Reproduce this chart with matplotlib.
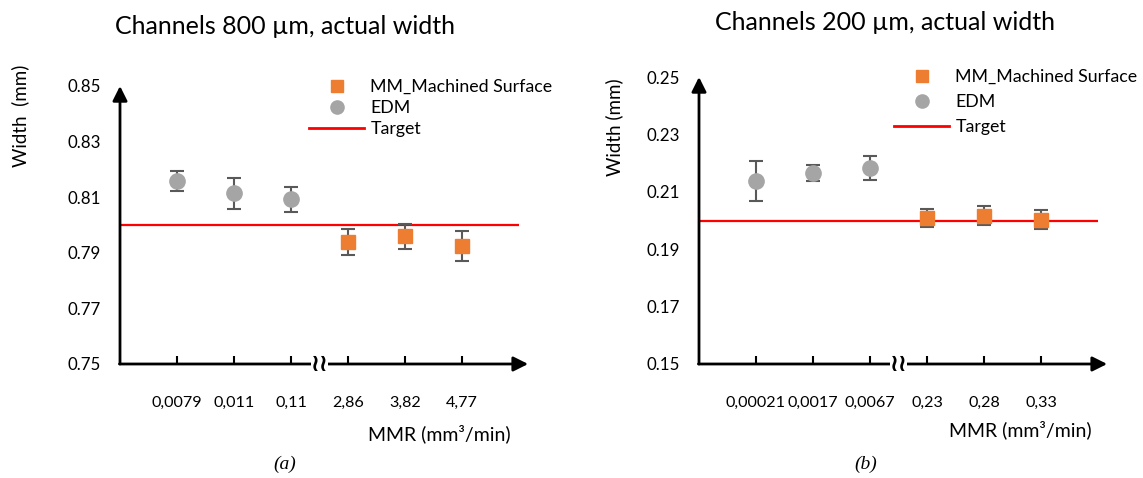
import matplotlib
matplotlib.use('Agg')
import matplotlib.pyplot as plt
import numpy as np
from matplotlib.lines import Line2D

plt.rcParams['font.family'] = ['Lato', 'DejaVu Sans']

# --- data ---
positions = [1, 2, 3, 4, 5, 6]
edm_pos = [1, 2, 3]
mm_pos = [4, 5, 6]

labels_800 = ['0,0079', '0,011', '0,11', '2,86', '3,82', '4,77']
edm_800 = [0.8158, 0.8114, 0.8092]
edm_800_err = [0.0037, 0.0056, 0.0046]
mm_800 = [0.7938, 0.7959, 0.7924]
mm_800_err = [0.0047, 0.0045, 0.0055]
target_800 = 0.80
yticks_800 = [0.75, 0.77, 0.79, 0.81, 0.83, 0.85]

labels_200 = ['0,00021', '0,0017', '0,0067', '0,23', '0,28', '0,33']
edm_200 = [0.2139, 0.2166, 0.2183]
edm_200_err = [0.0070, 0.0029, 0.0041]
mm_200 = [0.2009, 0.2017, 0.2003]
mm_200_err = [0.0030, 0.0033, 0.0033]
target_200 = 0.20
yticks_200 = [0.15, 0.17, 0.19, 0.21, 0.23, 0.25]

orange = '#ED7D31'
grey = '#A5A5A5'
red = '#FF0000'
ebar = '#595959'

W, H = 1143, 478
fig = plt.figure(figsize=(W / 100, H / 100), dpi=100)


def px(x, y):
    # pixel (from top-left) -> figure fraction
    return x / W, 1 - y / H


def draw_panel(ax, labels, edm, edm_err, mm, mm_err, target, yticks, title,
               title_xy, ylabel, ylabel_xy, xlabel_xy, caption, caption_xy,
               leg_xy, legspace):
    ymin, ymax = yticks[0], yticks[-1]
    ax.set_xlim(0, 7.2)
    ax.set_ylim(ymin, ymax)
    for s in ax.spines.values():
        s.set_visible(False)

    ax.hlines(target, 0, 7.0, color=red, lw=1.6, zorder=2)
    ax.errorbar(edm_pos, edm, yerr=edm_err, fmt='o', ms=11, color=grey,
                ecolor=ebar, elinewidth=1.5, capsize=5, capthick=1.5, zorder=3)
    ax.errorbar(mm_pos, mm, yerr=mm_err, fmt='s', ms=10.5, color=orange,
                ecolor=ebar, elinewidth=1.5, capsize=5, capthick=1.5, zorder=3)

    # axes with arrow heads
    arrow = dict(arrowstyle='-|>', lw=2, color='black', mutation_scale=22,
                 shrinkA=0, shrinkB=0)
    ax.annotate('', xy=(0, ymax), xytext=(0, ymin), arrowprops=arrow,
                annotation_clip=False)
    ax.annotate('', xy=(7.16, ymin), xytext=(-0.01, ymin), arrowprops=arrow,
                annotation_clip=False)
    # axis break
    ax.text(3.5, ymin, '\u2240\u2240', ha='center', va='center', fontsize=17,
            family='DejaVu Sans', fontweight='bold',
            bbox=dict(boxstyle='square,pad=0.0', fc='white', ec='none'),
            zorder=5, clip_on=False)

    ax.set_xticks(positions)
    ax.set_xticklabels(labels, fontsize=11.6)
    ax.tick_params(axis='x', direction='in', length=6, width=1.5, pad=23)
    ax.set_yticks(yticks)
    ax.set_yticklabels(['%.2f' % v for v in yticks], fontsize=12.2)
    ax.tick_params(axis='y', length=0, pad=14)

    fig.text(*px(*title_xy), title, ha='center', va='center', fontsize=18)
    fig.text(*px(*ylabel_xy), ylabel, ha='center', va='center',
             fontsize=13.5, rotation=90)
    fig.text(*px(*xlabel_xy), 'MMR (mm\u00b3/min)', ha='center', va='center',
             fontsize=14)
    fig.text(*px(*caption_xy), caption, ha='center', va='center', fontsize=14,
             family='Liberation Serif', style='italic')

    handles = [
        Line2D([], [], ls='none', marker='s', ms=9, color=orange),
        Line2D([], [], ls='none', marker='o', ms=9.5, color=grey),
        Line2D([], [], color=red, lw=2),
    ]
    fig.legend(handles, ['MM_Machined Surface', 'EDM', 'Target'],
               loc='upper left', bbox_to_anchor=px(*leg_xy), frameon=False,
               fontsize=12.8, handlelength=3.1, handletextpad=0.35,
               labelspacing=legspace, borderpad=0, borderaxespad=0)


ax1 = fig.add_axes([120 / W, (H - 364) / H, 410.4 / W, 278 / H])
draw_panel(ax1, labels_800, edm_800, edm_800_err, mm_800, mm_800_err,
           target_800, yticks_800, 'Channels 800 \u00b5m, actual width',
           (285, 27), 'Width  (mm)', (20, 116), (439, 434), '(a)', (285, 464),
           (309, 79), 0.28)

ax2 = fig.add_axes([699 / W, (H - 364) / H, 410.4 / W, 287 / H])
draw_panel(ax2, labels_200, edm_200, edm_200_err, mm_200, mm_200_err,
           target_200, yticks_200, 'Channels 200 \u00b5m, actual width',
           (885, 22), 'Width (mm)', (614, 127), (1020, 430), '(b)', (866, 464),
           (894, 69), 0.5)

fig.savefig('out.png', dpi=100)
